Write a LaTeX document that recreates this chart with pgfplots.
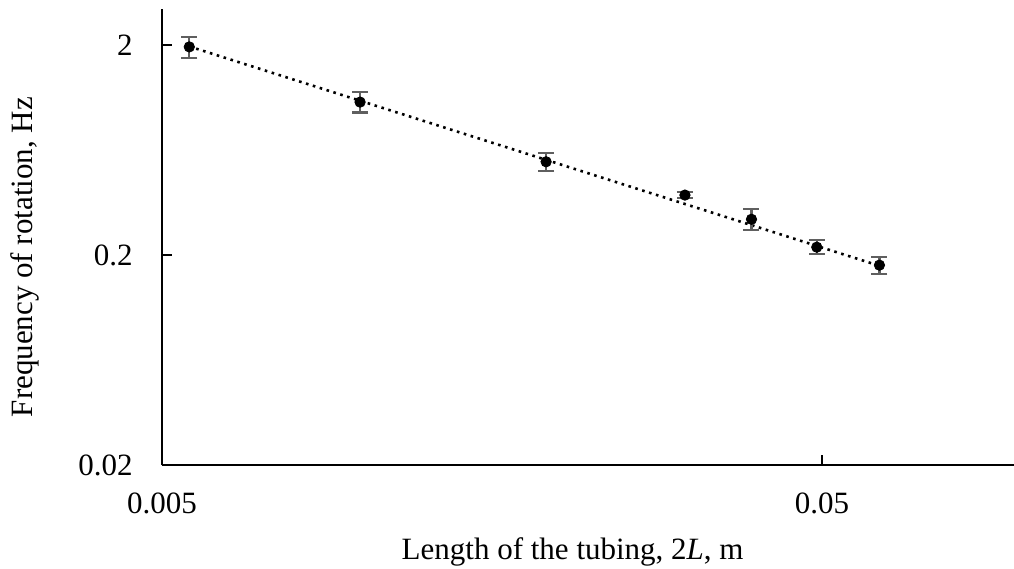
\documentclass[border=0pt]{standalone}
\usepackage{fontspec}
\setmainfont{Liberation Serif}
\usepackage{pgfplots}
\pgfplotsset{compat=1.18}
\definecolor{errgray}{RGB}{95,95,95}
\begin{document}
\begin{tikzpicture}
\begin{axis}[
  scale only axis,
  width=426pt, height=228pt,
  xmode=log, ymode=log,
  xmin=0.005, xmax=0.0977,
  ymin=0.02, ymax=2.97,
  axis x line*=bottom, axis y line*=left,
  axis line style={line width=1.1pt,-},
  xtick={0.005,0.05}, xticklabels={0.005,0.05},
  ytick={0.02,0.2,2}, yticklabels={0.02,0.2,2},
  xminorticks=false, yminorticks=false,
  tick align=inside,
  major tick length=5pt,
  tick style={line width=1.1pt,black},
  /pgf/number format/assume math mode=true,
  tick label style={font=\fontsize{15.5}{18}\selectfont, inner sep=0pt},
  xticklabel style={anchor=north, yshift=-13.5pt},
  yticklabel style={anchor=east, xshift=-14.5pt},
  xlabel={Length of the tubing, 2\textit{L}, m},
  ylabel={Frequency of rotation, Hz},
  label style={font=\fontsize{15.5}{18}\selectfont},
  xlabel style={at={(axis description cs:0.482,0)}, anchor=base, yshift=-47pt},
  ylabel style={at={(axis description cs:-0.1608,0.456)}, anchor=center},
  clip=false,
]
\addplot[black, line width=1.3pt, dash pattern=on 1.3pt off 2.3pt] coordinates {(0.0055,1.97) (0.061,0.178)};
\addplot[black, only marks, mark=*, mark size=2.6pt,
  error bars/.cd, y dir=both, y explicit,
  error bar style={errgray, line width=1.1pt},
  error mark options={rotate=90, mark size=4pt, errgray, line width=1.1pt}]
  table[x=x, y=y, y error plus=ep, y error minus=em] {
x y ep em
0.0055 1.96 0.23 0.22
0.00998 1.07 0.13 0.116
0.0191 0.556 0.058 0.052
0.0310 0.386 0.013 0.012
0.0391 0.296 0.036 0.032
0.0491 0.218 0.017 0.016
0.0611 0.179 0.017 0.016
};
\end{axis}
\pgfresetboundingbox
\path[use as bounding box] ([shift={(-81pt,-51.5pt)}]current axis.south west) rectangle ([shift={(0pt,4.5pt)}]current axis.north east);
\end{tikzpicture}
\end{document}
